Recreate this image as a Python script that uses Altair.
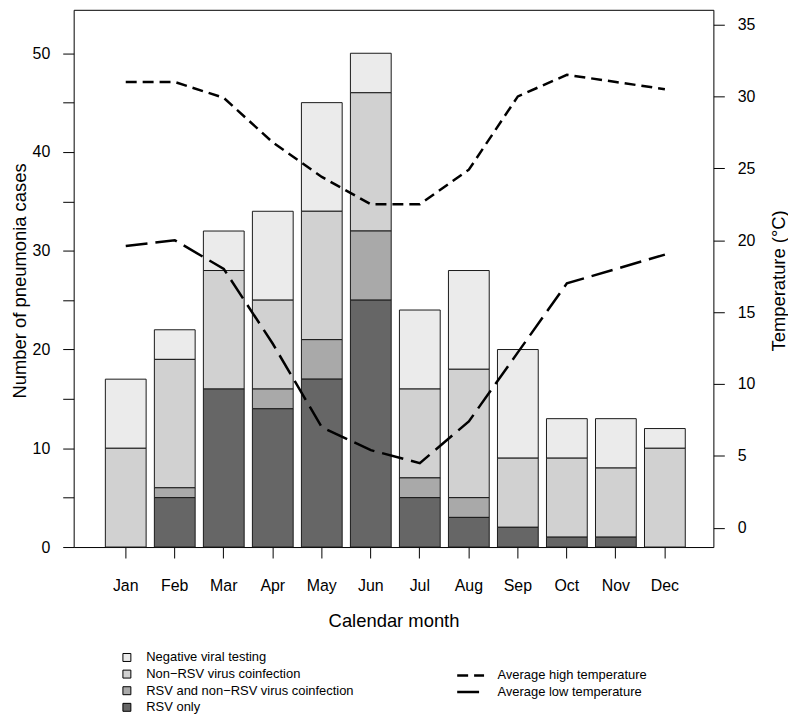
import altair as alt
import pandas as pd

months = ["Jan", "Feb", "Mar", "Apr", "May", "Jun", "Jul", "Aug", "Sep", "Oct", "Nov", "Dec"]

# stacked bar components (cases)
rsv_only = [0, 5, 16, 14, 17, 25, 5, 3, 2, 1, 1, 0]
rsv_and_other = [0, 1, 0, 2, 4, 7, 2, 2, 0, 0, 0, 0]
non_rsv = [10, 13, 12, 9, 13, 14, 9, 13, 7, 8, 7, 10]
negative = [7, 3, 4, 9, 11, 4, 8, 10, 11, 4, 5, 2]

# temperatures (°C)
avg_high = [31.0, 31.0, 29.9, 26.8, 24.4, 22.5, 22.5, 24.9, 30.0, 31.5, 31.0, 30.5]
avg_low = [19.6, 20.0, 18.0, 12.8, 7.0, 5.4, 4.5, 7.4, 12.2, 17.0, 18.0, 19.0]

categories = [
    "Negative viral testing",
    "Non\u2212RSV virus coinfection",
    "RSV and non\u2212RSV virus coinfection",
    "RSV only",
]
cat_colors = ["#EBEBEB", "#D1D1D1", "#A9A9A9", "#666666"]
series_names = ["Average high temperature", "Average low temperature"]

FONT = "Liberation Sans"

rows = []
series_vals = [negative, non_rsv, rsv_and_other, rsv_only]
for ci, (cat, vals) in enumerate(zip(categories, series_vals)):
    for mi, m in enumerate(months):
        if vals[mi] > 0:
            rows.append({"month": m, "category": cat, "count": vals[mi], "rank": 3 - ci})
bar_df = pd.DataFrame(rows)

lrows = []
for name, vals in zip(series_names, [avg_high, avg_low]):
    for mi, m in enumerate(months):
        lrows.append({"month": m, "idx": mi, "series": name, "temp": vals[mi]})
line_df = pd.DataFrame(lrows)

xscale = alt.Scale(paddingInner=0.168, paddingOuter=0.61, align=0.53)

bars = alt.Chart(bar_df).mark_bar(stroke="#1a1a1a", strokeWidth=1).encode(
    x=alt.X(
        "month:N",
        sort=months,
        scale=xscale,
        axis=alt.Axis(
            title="Calendar month",
            labelAngle=0,
            tickSize=11,
            labelPadding=33,
            labelBaseline="alphabetic",
            titleX=321.5,
            titleY=80,
            titleBaseline="alphabetic",
            titleAlign="center",
        ),
    ),
    y=alt.Y(
        "count:Q",
        stack="zero",
        scale=alt.Scale(domain=[0, 54.4], nice=False),
        axis=alt.Axis(
            title="Number of pneumonia cases",
            values=list(range(0, 51, 5)),
            labelExpr="datum.value % 10 == 0 ? datum.label : ''",
            tickSize=11,
            labelPadding=13,
            titleX=-48,
            titleY=272,
            titleAngle=270,
            titleBaseline="alphabetic",
            titleAlign="center",
        ),
    ),
    fill=alt.Fill(
        "category:N",
        scale=alt.Scale(domain=categories, range=cat_colors),
        legend=alt.Legend(
            title=None,
            orient="none",
            legendX=47,
            legendY=643,
            symbolType="square",
            symbolSize=64,
            symbolStrokeColor="black",
            symbolStrokeWidth=1,
            labelFontSize=13,
            labelOffset=13,
            labelLimit=400,
            clipHeight=16,
            rowPadding=0.7,
            padding=0,
        ),
    ),
    order=alt.Order("rank:Q", sort="ascending"),
)

lines = alt.Chart(line_df).mark_line(color="black", strokeWidth=2.5).encode(
    x=alt.X("month:N", sort=months, scale=xscale),
    y=alt.Y(
        "temp:Q",
        scale=alt.Scale(domain=[-1.335, 36.02], nice=False, zero=False),
        axis=alt.Axis(
            orient="right",
            title="Temperature (°C)",
            values=list(range(0, 36, 5)),
            tickSize=11,
            labelPadding=13,
            titleX=71,
            titleY=272,
            titleAngle=270,
            titleBaseline="alphabetic",
            titleAlign="center",
        ),
    ),
    strokeDash=alt.StrokeDash(
        "series:N",
        scale=alt.Scale(domain=series_names, range=[[11, 6], [22, 8]]),
        legend=alt.Legend(
            title=None,
            orient="none",
            legendX=384,
            legendY=661,
            symbolType="stroke",
            symbolSize=729,
            symbolStrokeWidth=2.5,
            symbolStrokeColor="black",
            labelFontSize=13,
            labelOffset=12,
            labelLimit=400,
            clipHeight=16,
            rowPadding=0.7,
            padding=0,
        ),
    ),
    order=alt.Order("idx:Q"),
)

chart = (
    alt.layer(bars, lines)
    .resolve_scale(y="independent", fill="independent", strokeDash="independent")
    .properties(
        width=643,
        height=540,
        padding={"left": 66, "top": 0, "right": 75, "bottom": 166},
        autosize=alt.AutoSizeParams(type="none"),
    )
    .configure(font=FONT)
    .configure_view(stroke="black", strokeWidth=1)
    .configure_axis(
        domain=False,
        grid=False,
        tickColor="black",
        tickWidth=1,
        labelColor="black",
        labelFont=FONT,
        labelFontSize=16,
        titleFont=FONT,
        titleFontSize=18.5,
        titleFontWeight="normal",
        titleColor="black",
        labelFlush=False,
        labelOverlap=False,
    )
    .configure_legend(labelFont=FONT, labelColor="black")
)

chart.save("out.html", embed_options={"renderer": "svg", "actions": False})
